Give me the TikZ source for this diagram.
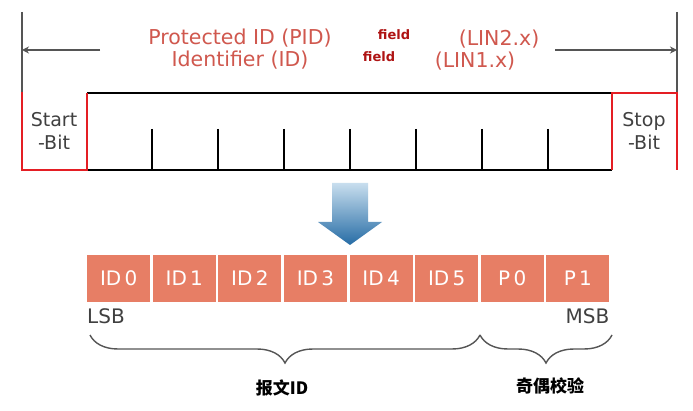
\documentclass[tikz,border=0pt]{standalone}
\usepackage{fontspec}
\setmainfont{DejaVu Sans}
\newfontfamily\cjk{Noto Sans CJK SC}
\usetikzlibrary{arrows.meta,positioning}
\usetikzlibrary{decorations.pathreplacing}
\definecolor{pidred}{RGB}{208,88,78}
\definecolor{fieldred}{RGB}{175,20,20}
\definecolor{bitfill}{RGB}{231,126,101}
\definecolor{framegray}{RGB}{85,85,85}
\definecolor{wavered}{RGB}{228,30,36}
\definecolor{arrowtop}{RGB}{200,222,238}
\definecolor{arrowbot}{RGB}{38,108,165}
\tikzstyle{bitbox}=[fill=bitfill, text=white, minimum width=63pt, minimum height=47pt, inner sep=0, font=\fontsize{20}{20}\selectfont]
\tikzstyle{pidtext}=[text=pidred, font=\fontsize{20.5}{22}\selectfont, inner sep=0]
\tikzstyle{fieldtext}=[text=fieldred, font=\bfseries\fontsize{13}{15}\selectfont, inner sep=0]
\tikzstyle{bittext}=[text=black!75, font=\fontsize{19}{23}\selectfont, align=center, inner sep=0]
\tikzstyle{wave}=[wavered, line width=1.8pt]
\tikzstyle{dataline}=[black, line width=1.8pt]
\tikzstyle{bracegroup}=[framegray, line width=1.4pt, decorate, decoration={brace, mirror, amplitude=28pt}]
\newcommand{\bitbox}[3]{\node[bitbox, anchor=west] (#1) at (#2) {#3};}

\begin{document}
\begin{tikzpicture}[x=1pt,y=-1pt]
\useasboundingbox[fill=white] (0,0) rectangle (693,411);

% frame and dimension arrows
\coordinate (lt) at (22,12);
\coordinate (lb) at (22,92);
\coordinate (rt) at (677,12);
\coordinate (rb) at (677,92);
\coordinate (la) at (22,50);
\coordinate (ra) at (677,50);
\coordinate (lae) at (100,50);
\coordinate (rae) at (555,50);
\draw[framegray, line width=1.2pt] (lt) -- (lb);
\draw[framegray, line width=1.2pt] (rt) -- (rb);
\draw[-{Stealth[length=7pt,width=7pt]}, framegray, line width=1.4pt] (lae) -- (la);
\draw[-{Stealth[length=7pt,width=7pt]}, framegray, line width=1.4pt] (rae) -- (ra);

\node[pidtext] (pid) at (240,38) {Protected ID (PID)};
\node[fieldtext] (f2) at (394,35) {field};
\node[pidtext] (lin2) at (499,39) {(LIN2.x)};
\node[pidtext] (idn) at (240,60) {Identifier (ID)};
\node[fieldtext] (f1) at (379,57) {field};
\node[pidtext] (lin1) at (475,61) {(LIN1.x)};

% waveform
\coordinate (s1) at (22,92);
\coordinate (s2) at (22,170);
\coordinate (s3) at (87,170);
\coordinate (s4) at (87,93);
\coordinate (e1) at (612,93);
\coordinate (e2) at (612,170);
\coordinate (e3) at (677,93);
\coordinate (e4) at (677,170);
\draw[dataline] (s4) -- (e1);
\draw[dataline] (s3) -- (e2);
\draw[dataline] (152,129) -- (152,170);
\draw[dataline] (218,129) -- (218,170);
\draw[dataline] (284,129) -- (284,170);
\draw[dataline] (350,129) -- (350,170);
\draw[dataline] (416,129) -- (416,170);
\draw[dataline] (482,129) -- (482,170);
\draw[dataline] (548,129) -- (548,170);
\draw[wave] (s1) -- (s2) -- (s3) -- (s4);
\draw[wave] (e2) -- (e1) -- (e3) -- (e4);
\node[bittext] (start) at (54,131) {Start\\-Bit};
\node[bittext] (stop) at (644,131) {Stop\\-Bit};

% arrow
\shade[top color=arrowtop, bottom color=arrowbot] (332,183) -- (368,183) -- (368,222) -- (382,222) -- (350,245) -- (318,222) -- (332,222) -- cycle;

% bits
\bitbox{b0}{87,278.5}{ID\,0}
\bitbox{b1}{152.6,278.5}{ID\,1}
\bitbox{b2}{218.2,278.5}{ID\,2}
\bitbox{b3}{283.8,278.5}{ID\,3}
\bitbox{b4}{349.4,278.5}{ID\,4}
\bitbox{b5}{415,278.5}{ID\,5}
\bitbox{b6}{480.6,278.5}{P\,0}
\bitbox{b7}{546.2,278.5}{P\,1}
\node[bittext, font=\fontsize{20}{22}\selectfont, below=6pt of b0.south west, anchor=north west] (lsb) {LSB};
\node[bittext, font=\fontsize{20}{22}\selectfont, below=6pt of b7.south east, anchor=north east] (msb) {MSB};

% braces
\coordinate (br1) at (90,335);
\coordinate (br2) at (480,335);
\coordinate (br3) at (612,335);
\draw[bracegroup] (br1) -- (br2);
\draw[bracegroup] (br2) -- (br3);
\node[font=\cjk\bfseries\fontsize{17}{19}\selectfont, inner sep=0] (msgid) at (282,388) {报文ID};
\node[font=\cjk\bfseries\fontsize{17}{19}\selectfont, inner sep=0] (parity) at (550,386) {奇偶校验};
\end{tikzpicture}
\end{document}
